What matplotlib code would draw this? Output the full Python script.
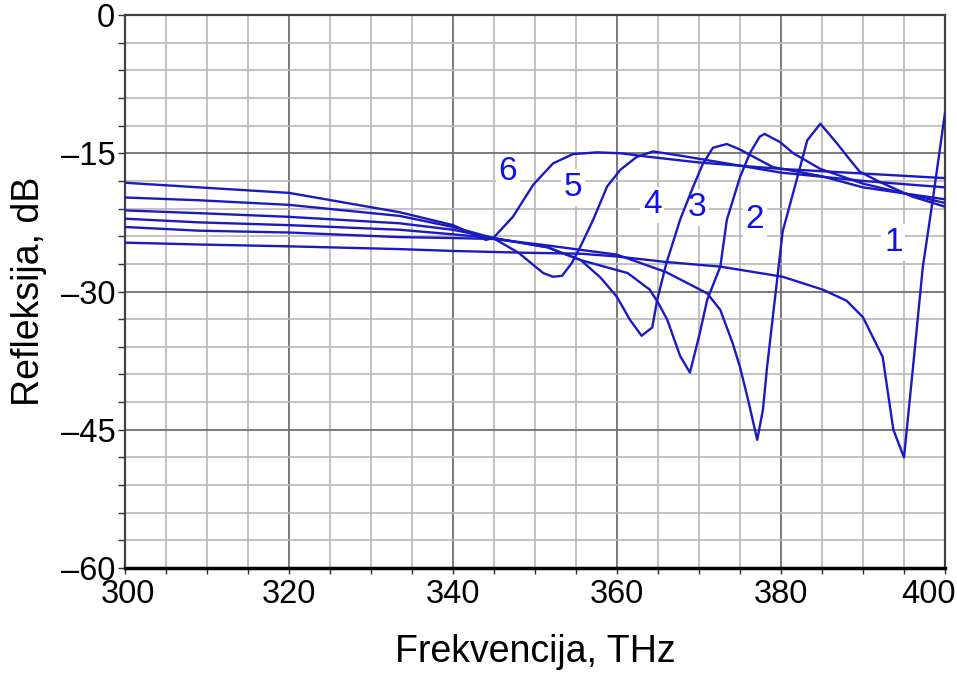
import matplotlib
matplotlib.use("Agg")
import matplotlib.pyplot as plt
from matplotlib.ticker import MultipleLocator
from matplotlib.transforms import ScaledTranslation

plt.rcParams['font.family'] = ['Liberation Sans', 'DejaVu Sans']

# ---- data ----
f1 = [300, 309, 320, 333.5, 340, 349, 355.6, 360, 366, 372.6, 380.2, 385.1, 388, 390, 392.4, 393.7, 395, 396.1, 397.3, 398.5, 400]
r1 = [-24.7, -24.9, -25.1, -25.4, -25.6, -25.8, -25.9, -26.2, -26.8, -27.3, -28.4, -29.8, -31.0, -32.8, -37.1, -45.0, -48.0, -38.2, -27.3, -20.1, -10.6]

f2 = [300, 309, 320, 333.5, 340, 344.9, 351.5, 360, 366, 371, 372.6, 374.1, 375, 376, 377.1, 377.8, 378.3, 379, 380.2, 382, 383.2, 384.8, 386.8, 388.4, 389.6, 392, 396, 400]
r2 = [-23.0, -23.4, -23.6, -24.1, -24.2, -24.3, -25.0, -26.0, -27.9, -30.2, -32.0, -35.6, -38.2, -41.8, -46.1, -42.8, -38.2, -32.8, -23.5, -17.6, -13.6, -11.8, -13.9, -15.7, -17.0, -18.1, -19.7, -20.8]

f3 = [300, 309, 320, 333.5, 340, 344.9, 351.5, 355.6, 361.3, 364, 365, 366.1, 367.7, 368.9, 370.1, 371, 372.6, 373.4, 375, 376.2, 377.4, 378, 379.9, 381.5, 384.8, 390, 400]
r3 = [-22.1, -22.5, -22.8, -23.3, -23.8, -24.2, -25.2, -26.6, -28.0, -29.8, -31.2, -33.0, -37.0, -38.8, -34.5, -30.9, -27.3, -22.2, -17.6, -15.0, -13.2, -12.9, -13.8, -15.0, -16.7, -18.3, -20.4]

f4 = [300, 309, 320, 333.5, 340, 344.9, 351.5, 355.6, 358, 360, 361.6, 363, 364.3, 364.9, 366, 367.7, 369.3, 370.5, 371.7, 373.4, 375, 379, 385, 390, 400]
r4 = [-21.2, -21.5, -21.9, -22.6, -23.3, -24.2, -25.2, -26.6, -28.5, -30.6, -33.1, -34.8, -33.9, -30.9, -27.0, -22.2, -18.6, -16.1, -14.4, -14.0, -14.6, -16.5, -17.5, -18.7, -20.0]

f5 = [300, 309, 320, 333.5, 340, 344.9, 348, 351, 352.2, 353.3, 354.5, 355.5, 357.1, 358.8, 360.4, 362.4, 364.4, 368, 380, 390, 400]
r5 = [-19.8, -20.1, -20.6, -21.8, -23.0, -24.2, -25.8, -28.0, -28.4, -28.3, -26.9, -25.2, -22.2, -18.6, -16.8, -15.4, -14.8, -15.3, -17.1, -18.0, -18.7]

f6 = [300, 309, 320, 333.5, 340, 344, 344.9, 347.3, 349.8, 352.2, 354.6, 357.6, 360.4, 364, 370, 380, 390, 400]
r6 = [-18.2, -18.7, -19.3, -21.4, -22.8, -24.4, -24.2, -21.9, -18.4, -16.1, -15.1, -14.9, -15.0, -15.4, -16.0, -16.7, -17.2, -17.7]

curve_names = ["1", "2", "3", "4", "5", "6"]
label_x = [393.7, 376.8, 369.8, 364.3, 354.6, 346.7]
label_y = [-24.7, -22.2, -20.9, -20.6, -18.7, -17.0]

xticks = [300, 320, 340, 360, 380, 400]
yticks = [0, -15, -30, -45, -60]
ytick_labels = ["0", "\u201315", "\u201330", "\u201345", "\u201360"]

# ---- figure ----
W, H = 957, 677
fig = plt.figure(figsize=(W / 100, H / 100), dpi=100)
ax = fig.add_axes([125 / W, 1 - 568 / H, (945 - 125) / W, (568 - 15) / H])

ax.set_xlim(300, 400)
ax.set_ylim(-60, 0)

ax.xaxis.set_minor_locator(MultipleLocator(5))
ax.yaxis.set_minor_locator(MultipleLocator(3))
ax.set_xticks(xticks)
ax.set_yticks(yticks)
ax.set_yticklabels(ytick_labels)

ax.grid(which='minor', color='#b8b8b8', linewidth=1.2, zorder=0)
ax.grid(which='major', color='#707070', linewidth=1.3, zorder=0)
ax.set_axisbelow(True)

ax.tick_params(axis='both', which='both', direction='out', colors='#303030',
               labelcolor='black', labelsize=23.5)
ax.tick_params(axis='x', which='both', length=4, width=1.0, pad=4)
ax.tick_params(axis='y', which='both', length=5, width=1.0, pad=2)

# nudge the end labels like the reference
xl = ax.get_xticklabels()
xl[-1].set_transform(xl[-1].get_transform() + ScaledTranslation(-17 / 100, 0, fig.dpi_scale_trans))
xl[0].set_transform(xl[0].get_transform() + ScaledTranslation(3 / 100, 0, fig.dpi_scale_trans))

for s in ['left', 'top', 'right']:
    ax.spines[s].set_color('#404040')
    ax.spines[s].set_linewidth(1.6)
ax.spines['bottom'].set_color('black')
ax.spines['bottom'].set_linewidth(2.5)

line_color = '#1a1ac4'
for fx, ry in [(f1, r1), (f2, r2), (f3, r3), (f4, r4), (f5, r5), (f6, r6)]:
    ax.plot(fx, ry, color=line_color, linewidth=1.7, zorder=3, solid_joinstyle='round')

for name, lx, ly in zip(curve_names, label_x, label_y):
    ax.text(lx, ly, name, color='#1010ee', fontsize=24, ha='center', va='center',
            zorder=2.5, bbox=dict(facecolor='white', edgecolor='none', pad=2))

ax.set_xlabel("Frekvencija, THz", fontsize=27, labelpad=17)
ax.set_ylabel("Refleksija, dB", fontsize=27, labelpad=10)

fig.savefig("out.png", dpi=100)
